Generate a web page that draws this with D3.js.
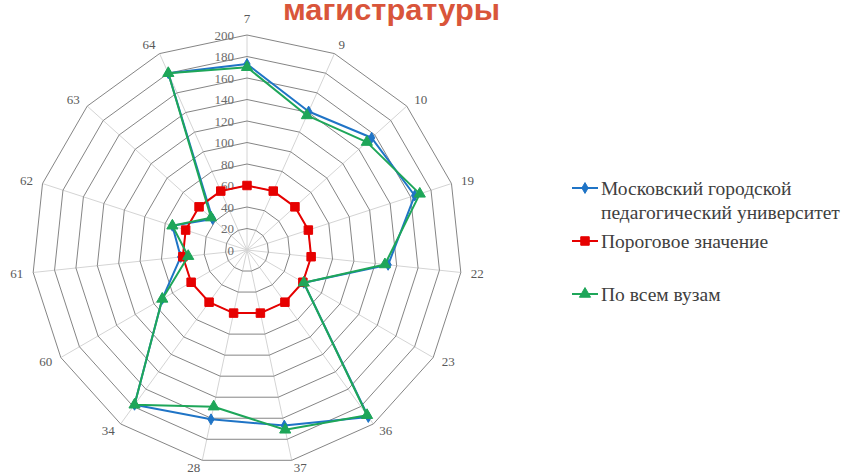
<!DOCTYPE html>
<html>
<head>
<meta charset="utf-8">
<script src="https://cdn.jsdelivr.net/npm/d3@7"></script>
<style>
  html, body { margin: 0; padding: 0; background: #ffffff; }
  svg { display: block; }
</style>
</head>
<body>
<svg id="chart" width="845" height="475"></svg>
<script>
// Направления подготовки (оси лепестковой диаграммы)
const categories = ["7", "9", "10", "19", "22", "23", "36", "37", "28", "34", "60", "61", "62", "63", "64"];
// Средний балл: МГПУ, пороговое значение, по всем вузам
const mgpuValues = [173, 141, 156, 164, 132, 61, 192, 167, 161, 178, 91, 62, 73, 43, 180];
const thresholdValues = [60, 60, 60, 60, 60, 60, 60, 60, 60, 60, 60, 60, 60, 60, 60];
const allValues = [170, 137, 150, 169, 129, 61, 190, 171, 149, 178, 91, 55, 73, 45, 180];
const tickValues = [0, 20, 40, 60, 80, 100, 120, 140, 160, 180, 200];
const seriesNames = ["Московский городской\nпедагогический университет", "Пороговое значение", "По всем вузам"];

const svg = d3.select("#chart");
const cx = 247, cy = 250, R = 215;
const n = categories.length;
const r = d3.scaleLinear().domain([0, 200]).range([0, R]);
const angle = i => i * 2 * Math.PI / n;

// Заголовок
svg.append("text")
  .attr("x", 283).attr("y", 20)
  .attr("textLength", 217).attr("lengthAdjust", "spacingAndGlyphs")
  .style("font-family", "'Liberation Sans', Arial, sans-serif")
  .style("font-weight", "bold").style("font-size", "30px")
  .style("fill", "#d9553a")
  .text("магистратуры");

const g = svg.append("g").attr("transform", `translate(${cx},${cy})`);

// Радиальные линии
g.append("g").selectAll("line").data(categories).join("line")
  .attr("x1", 0).attr("y1", 0)
  .attr("x2", (d, i) => Math.sin(angle(i)) * R)
  .attr("y2", (d, i) => -Math.cos(angle(i)) * R)
  .attr("stroke", "#d4d4d4").attr("stroke-width", 1);

// Кольца сетки
const ringLine = d3.lineRadial().curve(d3.curveLinearClosed)
  .angle((d, i) => angle(i));
g.append("g").selectAll("path").data(tickValues.filter(t => t > 0)).join("path")
  .attr("d", t => ringLine.radius(() => r(t))(categories))
  .attr("fill", "none").attr("stroke", "#858585").attr("stroke-width", 1);

// Подписи шкалы
g.append("g").selectAll("text").data(tickValues).join("text")
  .attr("x", -13).attr("y", t => -r(t))
  .attr("text-anchor", "end").attr("dominant-baseline", "central")
  .style("font-family", "'Liberation Serif', 'Times New Roman', serif")
  .style("font-size", "13px").style("fill", "#6b6b6b")
  .text(t => t);

// Подписи осей
const pad = 10;
g.append("g").selectAll("text").data(categories).join("text")
  .each(function (d, i) {
    const s = Math.sin(angle(i)), c = Math.cos(angle(i));
    let x = s * (R + pad), y = -c * (R + pad - (c < 0 ? 2.5 : 0));
    let anchor = "middle";
    if (s > 0.05) anchor = "start";
    else if (s < -0.05) anchor = "end";
    else y += -c * 7;
    d3.select(this).attr("x", x).attr("y", y).attr("text-anchor", anchor);
  })
  .attr("dominant-baseline", "central")
  .style("font-family", "'Liberation Serif', 'Times New Roman', serif")
  .style("font-size", "13px").style("fill", "#595959")
  .text(d => d);

// Ряды данных
const series = [
  { name: seriesNames[0], values: mgpuValues, color: "#1f74c6", symbol: d3.symbolDiamond, size: 34, width: 2 },
  { name: seriesNames[1], values: thresholdValues, color: "#e60000", symbol: d3.symbolSquare, size: 72, width: 2 },
  { name: seriesNames[2], values: allValues, color: "#1ea659", symbol: d3.symbolTriangle, size: 54, width: 2 }
];
const valueLine = d3.lineRadial().curve(d3.curveLinearClosed)
  .angle((d, i) => angle(i)).radius(d => r(d));

series.forEach(s => {
  const sg = g.append("g");
  sg.append("path").attr("d", valueLine(s.values))
    .attr("fill", "none").attr("stroke", s.color).attr("stroke-width", s.width)
    .attr("stroke-linejoin", "round");
  sg.selectAll("path.m").data(s.values).join("path").attr("class", "m")
    .attr("transform", (d, i) => `translate(${Math.sin(angle(i)) * r(d)},${-Math.cos(angle(i)) * r(d)})`)
    .attr("d", d3.symbol().type(s.symbol).size(s.size))
    .attr("fill", s.color).attr("stroke", s.color).attr("stroke-width", 1);
});

// Легенда
const legendY = [188, 241, 294];
const lg = svg.append("g");
series.forEach((s, k) => {
  const y = legendY[k];
  lg.append("line").attr("x1", 572).attr("x2", 598).attr("y1", y).attr("y2", y)
    .attr("stroke", s.color).attr("stroke-width", 2);
  lg.append("path").attr("transform", `translate(585,${y})`)
    .attr("d", d3.symbol().type(s.symbol).size(s.size))
    .attr("fill", s.color).attr("stroke", s.color);
  const t = lg.append("text").attr("x", 601).attr("y", y)
    .style("font-family", "'Liberation Serif', 'Times New Roman', serif")
    .style("font-size", "19.5px").style("fill", "#404040");
  s.name.split("\n").forEach((line, j) => {
    t.append("tspan").attr("x", 601).attr("y", y + j * 24)
      .attr("dominant-baseline", "central").text(line);
  });
});
</script>
</body>
</html>
